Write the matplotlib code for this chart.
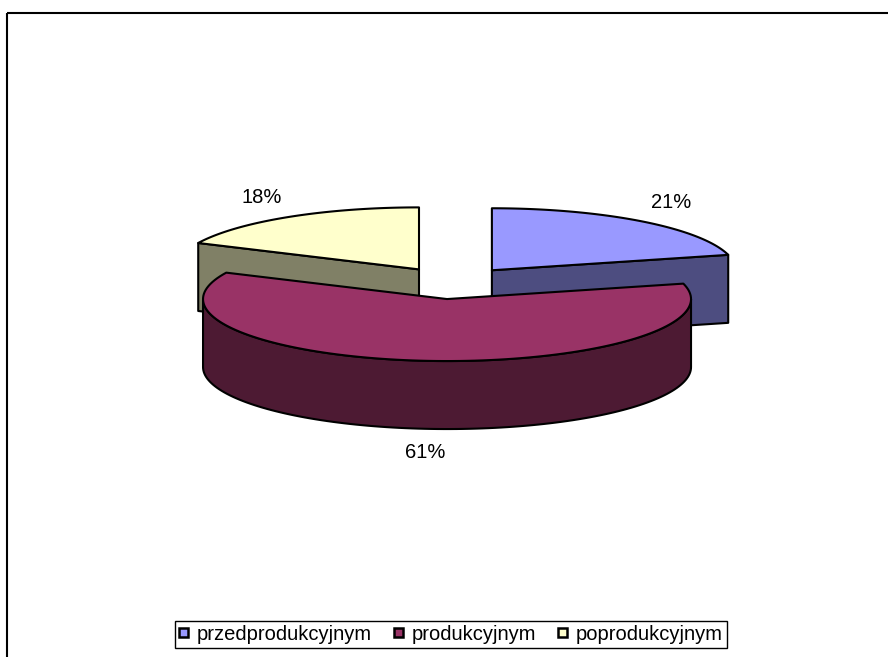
import numpy as np
import matplotlib
matplotlib.use('Agg')
import matplotlib.pyplot as plt
from matplotlib.patches import Patch

# data
categories = ['przedprodukcyjnym', 'produkcyjnym', 'poprodukcyjnym']
values = [21, 61, 18]
top_colors = ['#9999FF', '#993366', '#FFFFCC']
side_colors = ['#4D4D80', '#4D1A33', '#808066']

# geometry of the 3d pie (pixel units)
cx, cy = 453, 283
rx, ry = 244, 62
depth = 68
explode = 0.26

plt.rcParams['font.family'] = ['Liberation Sans', 'DejaVu Sans']
fig = plt.figure(figsize=(8.88, 6.57), dpi=100)
ax = fig.add_axes([0, 0, 1, 1])
ax.set_xlim(0, 888)
ax.set_ylim(657, 0)
ax.axis('off')


def arc(x0, y0, a0, a1, dy=0, n=120):
    t = np.radians(np.linspace(a0, a1, n))
    return x0 + rx * np.cos(t), y0 - ry * np.sin(t) + dy


total = float(sum(values))
slices = []
start = 90.0
for i, v in enumerate(values):
    end = start - 360.0 * v / total
    mid = (start + end) / 2
    ox = cx + explode * rx * np.cos(np.radians(mid))
    oy = cy - explode * ry * np.sin(np.radians(mid))
    slices.append((i, start, end, mid, ox, oy))
    start = end

# back to front
order = sorted(slices, key=lambda s: -np.sin(np.radians(s[3])))
z = 1
for i, a0, a1, mid, ox, oy in order:
    kw = dict(edgecolor='black', linewidth=1.5, joinstyle='round')
    # radial faces
    for a, vis in ((a0, np.cos(np.radians(a0)) < -1e-6), (a1, np.cos(np.radians(a1)) > 1e-6)):
        if vis:
            px = ox + rx * np.cos(np.radians(a))
            py = oy - ry * np.sin(np.radians(a))
            ax.fill([ox, px, px, ox], [oy, py, py + depth, oy + depth],
                    facecolor=side_colors[i], zorder=z, **kw)
            z += 1
    # outer wall, front half only
    for k in range(-2, 2):
        lo = max(a1, -180 + 360 * k)
        hi = min(a0, 360 * k)
        if lo < hi:
            tx, ty = arc(ox, oy, hi, lo)
            bx, by = arc(ox, oy, lo, hi, dy=depth)
            ax.fill(np.r_[tx, bx], np.r_[ty, by], facecolor=side_colors[i], zorder=z, **kw)
            z += 1
    # top
    tx, ty = arc(ox, oy, a0, a1)
    ax.fill(np.r_[ox, tx], np.r_[oy, ty], facecolor=top_colors[i], zorder=z, **kw)
    z += 1

# percentage labels
for i, a0, a1, mid, ox, oy in slices:
    t = np.radians(mid)
    lx = ox + 1.2 * rx * np.cos(t)
    ly = oy - 1.38 * ry * np.sin(t)
    if np.sin(t) < 0:
        ly += depth
        lx += 6
    ax.text(lx, ly, '%d%%' % values[i], ha='center', va='center', fontsize=14.5, zorder=50)

# chart frame (top and left edges visible)
ax.plot([7, 888], [13, 13], color='black', linewidth=1.5, solid_capstyle='butt')
ax.plot([7, 7], [13, 657], color='black', linewidth=1.5, solid_capstyle='butt')

handles = [Patch(facecolor=c, edgecolor='black', linewidth=1.8) for c in top_colors]
leg = ax.legend(handles, categories, ncol=3, loc='lower center',
                bbox_to_anchor=(451 / 888, 1 - 648 / 657), bbox_transform=fig.transFigure,
                fontsize=14.5, frameon=True, fancybox=False, framealpha=1,
                handlelength=0.42, handleheight=0.3, handletextpad=0.45,
                columnspacing=1.1, borderpad=0.2, borderaxespad=0)
leg.get_frame().set_edgecolor('black')
leg.get_frame().set_linewidth(1.0)

plt.savefig('out.png', dpi=100)
